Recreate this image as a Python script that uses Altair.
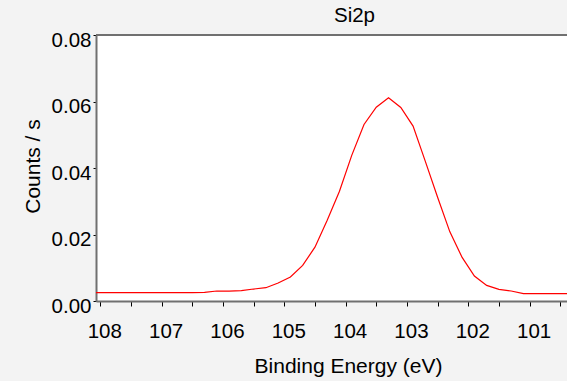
import altair as alt
import pandas as pd

energy = [108.1, 107.9, 107.7, 107.5, 107.3, 107.1, 106.9, 106.7, 106.5, 106.3,
          106.1, 105.9, 105.7, 105.5, 105.3, 105.1, 104.9, 104.7, 104.5, 104.3,
          104.1, 103.9, 103.7, 103.5, 103.3, 103.1, 102.9, 102.7, 102.5, 102.3,
          102.1, 101.9, 101.7, 101.5, 101.3, 101.1, 100.9, 100.7, 100.5, 100.3,
          100.1, 99.9, 99.7]
counts = [0.0025, 0.0025, 0.0025, 0.0025, 0.0025, 0.0025, 0.0025, 0.0025, 0.0025, 0.0026,
          0.0030, 0.0030, 0.0031, 0.0036, 0.0040, 0.0054, 0.0072, 0.0107, 0.0162, 0.0243,
          0.0330, 0.0438, 0.0531, 0.0583, 0.0611, 0.0582, 0.0526, 0.0420, 0.0312, 0.0208,
          0.0131, 0.0075, 0.0047, 0.0035, 0.0030, 0.0022, 0.0022, 0.0022, 0.0022, 0.0022,
          0.0022, 0.0022, 0.0022]

x_ticks = [108.0, 107.5, 107.0, 106.5, 106.0, 105.5, 105.0, 104.5, 104.0, 103.5,
           103.0, 102.5, 102.0, 101.5, 101.0, 100.5]
y_ticks = [0.0, 0.01, 0.02, 0.03, 0.04, 0.05, 0.06, 0.07, 0.08]
x_domain = [108.07, 100.39]
y_domain = [0.0, 0.08]

df = pd.DataFrame({"E": energy, "C": counts})

FONT = "Liberation Sans"
AX = "#707070"

line = alt.Chart(df).mark_line(color="#ff0000", strokeWidth=1.2, clip=True).encode(
    x=alt.X("E:Q",
            scale=alt.Scale(domain=x_domain, nice=False, zero=False),
            axis=alt.Axis(values=x_ticks, title="Binding Energy (eV)",
                          labelExpr="datum.value % 1 === 0 ? format(datum.value, 'd') : ''",
                          labelOverlap=False, labelFlush=False,
                          grid=False, tickSize=5, tickColor="#000000", tickWidth=1,
                          domainColor=AX, domainWidth=2,
                          labelFont=FONT, labelFontSize=20.5, labelColor="#000000",
                          labelPadding=15, labelOffset=4,
                          titleFont=FONT, titleFontSize=21, titleFontWeight="normal",
                          titleColor="#000000", titleX=252, titleY=71,
                          titleAlign="center", titleBaseline="alphabetic")),
    y=alt.Y("C:Q",
            scale=alt.Scale(domain=y_domain, nice=False),
            axis=alt.Axis(values=y_ticks, title="Counts / s",
                          labelExpr="round(datum.value*100) % 2 === 0 ? format(datum.value, '.2f') : ''",
                          labelOverlap=False, labelFlush=False,
                          grid=False, tickSize=3, tickColor="#000000", tickWidth=1,
                          domainColor=AX, domainWidth=2,
                          labelFont=FONT, labelFontSize=20.5, labelColor="#000000",
                          labelPadding=2, labelOffset=5,
                          titleFont=FONT, titleFontSize=21, titleFontWeight="normal",
                          titleColor="#000000", titleX=-57, titleY=131,
                          titleAlign="center", titleBaseline="alphabetic", titleAngle=270)),
)

top_rule = alt.Chart().mark_rule(color=AX, strokeWidth=2).encode(
    y=alt.datum(y_domain[1])
)

chart = alt.layer(line, top_rule).properties(
    width=471, height=266,
    title=alt.TitleParams("Si2p", font=FONT, fontSize=20.5, fontWeight="normal",
                          color="#000000", anchor="middle", dx=23, dy=22, offset=10,
                          baseline="alphabetic"),
    padding={"left": 96, "top": 35, "right": 0, "bottom": 80},
    autosize=alt.AutoSizeParams(type="none"),
    background="#f3f3f3",
).configure_view(stroke=None, fill="#ffffff")

chart.save("out.html", embed_options={"renderer": "svg", "actions": False})
